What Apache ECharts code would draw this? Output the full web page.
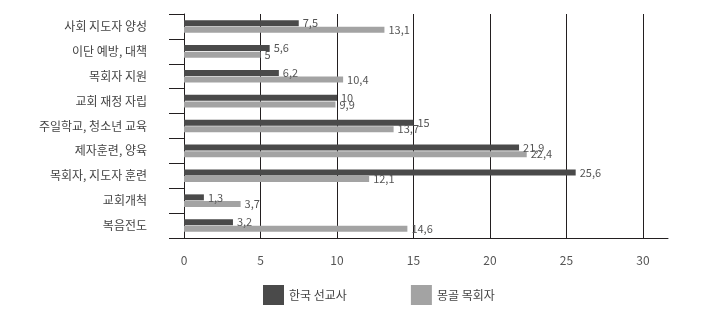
<!DOCTYPE html>
<html>
<head>
<meta charset="utf-8">
<script src="https://cdn.jsdelivr.net/npm/echarts@6/dist/echarts.min.js"></script>
<style>html,body{margin:0;padding:0;background:#fff;}#c{width:720px;height:310px;}</style>
</head>
<body>
<div id="c"></div>
<script>
const categories = ['사회 지도자 양성', '이단 예방, 대책', '목회자 지원', '교회 재정 자립', '주일학교, 청소년 교육', '제자훈련, 양육', '목회자, 지도자 훈련', '교회개척', '복음전도'];
const seriesNames = ['한국 선교사', '몽골 목회자'];
const koreaMissionary = [7.5, 5.6, 6.2, 10, 15, 21.9, 25.6, 1.3, 3.2];
const mongoliaPastor = [13.1, 5, 10.4, 9.9, 13.7, 22.4, 12.1, 3.7, 14.6];
const xTicks = [0, 5, 10, 15, 20, 25, 30];

const FONT = '"Noto Sans CJK KR", "Noto Sans", sans-serif';
const chart = echarts.init(document.getElementById('c'), null, {renderer: 'canvas'});
const lbl = {
  show: true, position: 'right', distance: 4,
  fontFamily: FONT, fontSize: 11, color: '#555',
  formatter: p => String(p.value).replace('.', ',')
};
chart.setOption({
  animation: false,
  backgroundColor: '#fff',
  grid: [
    {left: 184, top: 14, width: 459, height: 224},
    {left: 184, top: 14, width: 484, height: 224}
  ],
  xAxis: [
    {
      type: 'value', gridIndex: 0, min: xTicks[0], max: xTicks[xTicks.length - 1], interval: 5,
      axisLine: {show: false}, axisTick: {show: false},
      splitLine: {show: true, lineStyle: {color: '#231f20', width: 1}},
      axisLabel: {margin: 16, fontFamily: FONT, fontSize: 12, color: '#555'}
    },
    {
      type: 'value', gridIndex: 1, min: 0, max: 1,
      axisLine: {show: true, lineStyle: {color: '#231f20', width: 1}},
      axisTick: {show: false}, axisLabel: {show: false}, splitLine: {show: false}
    }
  ],
  yAxis: [
    {
      type: 'category', gridIndex: 0, data: categories, inverse: true,
      axisLine: {show: true, lineStyle: {color: '#231f20', width: 1}},
      axisTick: {show: true, length: 15, interval: 0, lineStyle: {color: '#231f20', width: 1}},
      axisLabel: {margin: 37, fontFamily: FONT, fontSize: 12, color: '#444', padding: [0, 0, 6, 0], interval: 0}
    },
    {type: 'category', gridIndex: 1, show: false, data: categories}
  ],
  legend: {
    left: 258, top: 280, itemWidth: 21, itemHeight: 20, itemGap: 64, itemTextGap: 5,
    icon: 'rect',
    textStyle: {fontFamily: FONT, fontSize: 12, color: '#444'},
    data: seriesNames
  },
  series: [
    {
      name: seriesNames[0], type: 'bar', data: koreaMissionary, barWidth: 6, barGap: '10%',
      itemStyle: {color: '#4a4a4a'}, label: lbl
    },
    {
      name: seriesNames[1], type: 'bar', data: mongoliaPastor, barWidth: 6, barGap: '10%',
      itemStyle: {color: '#a3a3a3'}, label: lbl
    }
  ]
});
</script>
</body>
</html>
